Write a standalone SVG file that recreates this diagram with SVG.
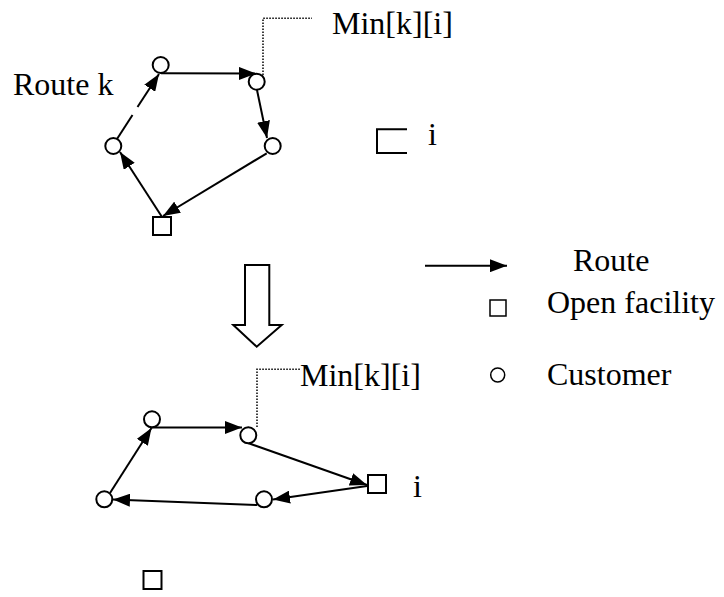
<svg xmlns="http://www.w3.org/2000/svg" width="724" height="597" viewBox="0 0 724 597">
<style>
.n{fill:#fff;stroke:#000;stroke-width:2}
.e{fill:none;stroke:#000;stroke-width:2}
.d{fill:none;stroke:#000;stroke-width:1.5;stroke-dasharray:1.5 1.5}
.t{font-family:"Liberation Serif","Times New Roman",serif;font-size:32px;fill:#000}
</style>
<defs>
<marker id="ah" viewBox="0 0 17 13" refX="17" refY="6.5" markerWidth="17" markerHeight="13" markerUnits="userSpaceOnUse" orient="auto">
<path d="M0,0 L17,6.5 L0,13 z" fill="#000"/>
</marker>
</defs>
<rect width="724" height="597" fill="#fff"/>

<g id="connectors">
<line class="e" x1="117" y1="139" x2="132.5" y2="115"/>
<line class="e" x1="137.5" y1="107" x2="159" y2="74" marker-end="url(#ah)"/>
<line class="e" x1="161" y1="73.3" x2="256" y2="73.5" marker-end="url(#ah)"/>
<line class="e" x1="257" y1="90" x2="267" y2="138" marker-end="url(#ah)"/>
<line class="e" x1="266.7" y1="153.3" x2="163" y2="216" marker-end="url(#ah)"/>
<line class="e" x1="162" y1="217" x2="120" y2="152" marker-end="url(#ah)"/>
<polyline class="d" points="263,75 263,18.3 312,18.3"/>

<line class="e" x1="110" y1="493" x2="151.5" y2="428" marker-end="url(#ah)"/>
<line class="e" x1="152" y1="427.5" x2="242" y2="427.5" marker-end="url(#ah)"/>
<line class="e" x1="248" y1="443" x2="367" y2="485" marker-end="url(#ah)"/>
<line class="e" x1="367" y1="486" x2="273" y2="499.5" marker-end="url(#ah)"/>
<line class="e" x1="257" y1="505" x2="113" y2="499.5" marker-end="url(#ah)"/>
<polyline class="d" points="257,427 257,369.3 300,369.3"/>
</g>

<g id="route-k">
<circle id="a1" class="n" cx="160.7" cy="65" r="8"/>
<circle id="b1" class="n" cx="256.7" cy="81.7" r="8"/>
<circle id="c1" class="n" cx="272.7" cy="146" r="8"/>
<circle id="d1" class="n" cx="113.3" cy="146" r="8"/>
<rect id="e1" class="n" x="153" y="217" width="18" height="18"/>
<text class="t" x="13" y="95">Route k</text>
<text class="t" x="332" y="34">Min[k][i]</text>
</g>

<g id="facility-i-top">
<path class="e" d="M407,129.3 H377 V153 H407"/>
<text class="t" x="428" y="145">i</text>
</g>

<g id="transform-arrow">
<path class="e" d="M245,265 H269.3 V325 H281.7 L256.7,346.7 L233.3,325 H245 Z"/>
</g>

<g id="legend">
<line class="e" x1="425" y1="265.7" x2="507" y2="265.7" marker-end="url(#ah)"/>
<text class="t" x="573" y="271">Route</text>
<rect class="n" x="490" y="300" width="16" height="16" style="stroke-width:1.5"/>
<text class="t" x="547" y="313">Open facility</text>
<circle class="n" cx="497.7" cy="375" r="7" style="stroke-width:1.5"/>
<text class="t" x="547" y="385">Customer</text>
</g>

<g id="route-new">
<circle id="p1" class="n" cx="152" cy="419.3" r="8"/>
<circle id="p2" class="n" cx="248.3" cy="435.3" r="8"/>
<circle id="p3" class="n" cx="264" cy="499.3" r="8"/>
<circle id="p4" class="n" cx="104.3" cy="499.3" r="8"/>
<rect id="q" class="n" x="368" y="475" width="18" height="18"/>
<text class="t" x="413" y="497">i</text>
<text class="t" x="300" y="386">Min[k][i]</text>
<rect id="f2" class="n" x="143.5" y="571" width="18" height="18"/>
</g>
</svg>
